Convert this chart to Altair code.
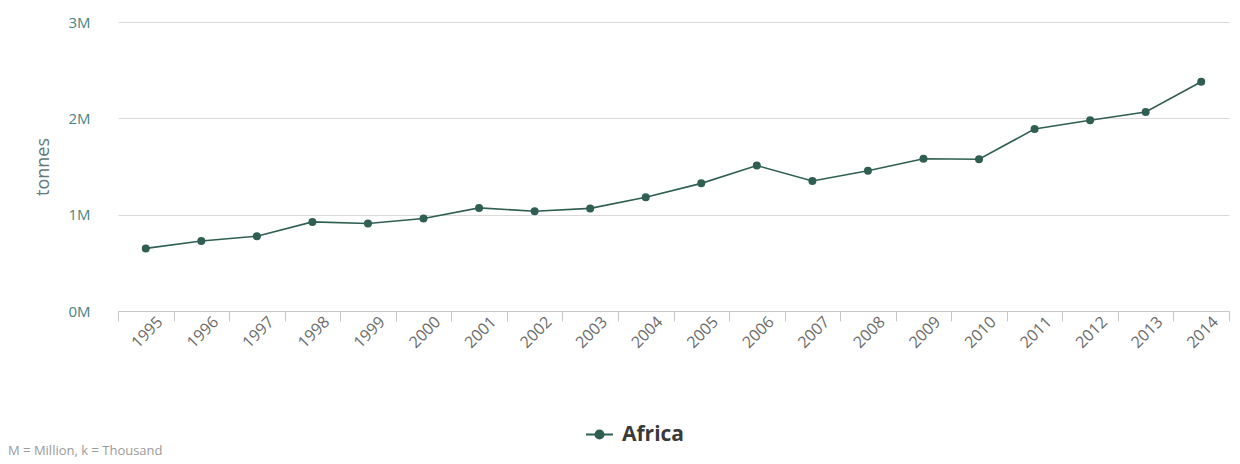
import altair as alt
import pandas as pd

# Annual production, Africa (tonnes)
years = [str(y) for y in range(1995, 2015)]
africa = [650000, 727000, 776000, 925000, 908000, 960000, 1070000, 1036000,
          1065000, 1180000, 1325000, 1510000, 1350000, 1456000, 1580000,
          1575000, 1890000, 1980000, 2065000, 2380000]
series = ["Africa"] * len(years)

df = pd.DataFrame({"year": years, "tonnes": africa, "series": series})

FONT = "Open Sans"
LINE = "#2f5f52"

x = alt.X(
    "year:N",
    title=None,
    scale=alt.Scale(paddingInner=0, paddingOuter=0),
    axis=alt.Axis(
        labelAngle=315,
        labelAlign="right",
        labelBaseline="middle",
        labelColor="#6b6b6b",
        labelFontSize=16,
        labelFont=FONT,
        labelPadding=-2,
        labelOffset=14,
        tickBand="extent",
        tickSize=10,
        tickColor="#c8c8c8",
        domainColor="#c8c8c8",
        grid=False,
    ),
)
y = alt.Y(
    "tonnes:Q",
    title="tonnes",
    scale=alt.Scale(domain=[0, 3000000], nice=False),
    axis=alt.Axis(
        values=[0, 1000000, 2000000, 3000000],
        labelExpr="(datum.value / 1000000) + 'M'",
        labelColor="#4a8484",
        labelFontSize=15,
        labelFont=FONT,
        labelPadding=28,
        titleColor="#5f7a7a",
        titleFontSize=18,
        titleFontWeight="normal",
        titleFont=FONT,
        titlePadding=15,
        domain=False,
        ticks=False,
        gridColor="#d9d9d9",
    ),
)
color = alt.Color(
    "series:N",
    scale=alt.Scale(range=[LINE]),
    legend=alt.Legend(
        title=None,
        orient="none",
        legendX=467,
        legendY=398,
        labelFontSize=21,
        labelFontWeight="bold",
        labelColor="#3a3a3a",
        labelFont=FONT,
        labelOffset=8,
        symbolType="M-1,0H1M-0.3,0A0.3,0.3,0,1,1,0.3,0A0.3,0.3,0,1,1,-0.3,0Z",
        symbolSize=729,
        symbolStrokeWidth=2,
        symbolFillColor=LINE,
        symbolStrokeColor=LINE,
    ),
)

base = alt.Chart(df)
line = base.mark_line(strokeWidth=1.6).encode(x=x, y=y, color=color)
pts = base.mark_circle(size=64, opacity=1).encode(
    x="year:N", y="tonnes:Q", color=alt.Color("series:N", legend=None)
)

note = alt.Chart(pd.DataFrame({"t": ["M = Million, k = Thousand"]})).mark_text(
    align="left", baseline="middle", fontSize=13, color="#9a9a9a", font=FONT
).encode(text="t:N", x=alt.value(-110), y=alt.value(429))

chart = (
    alt.layer(line, pts, note)
    .properties(
        width=1111,
        height=289,
        padding={"left": 118, "top": 22, "right": 11, "bottom": 153},
        autosize=alt.AutoSizeParams(type="none"),
        background="white",
    )
    .configure_view(stroke=None)
)

chart.save("out.html", embed_options={"renderer": "svg", "actions": False})
